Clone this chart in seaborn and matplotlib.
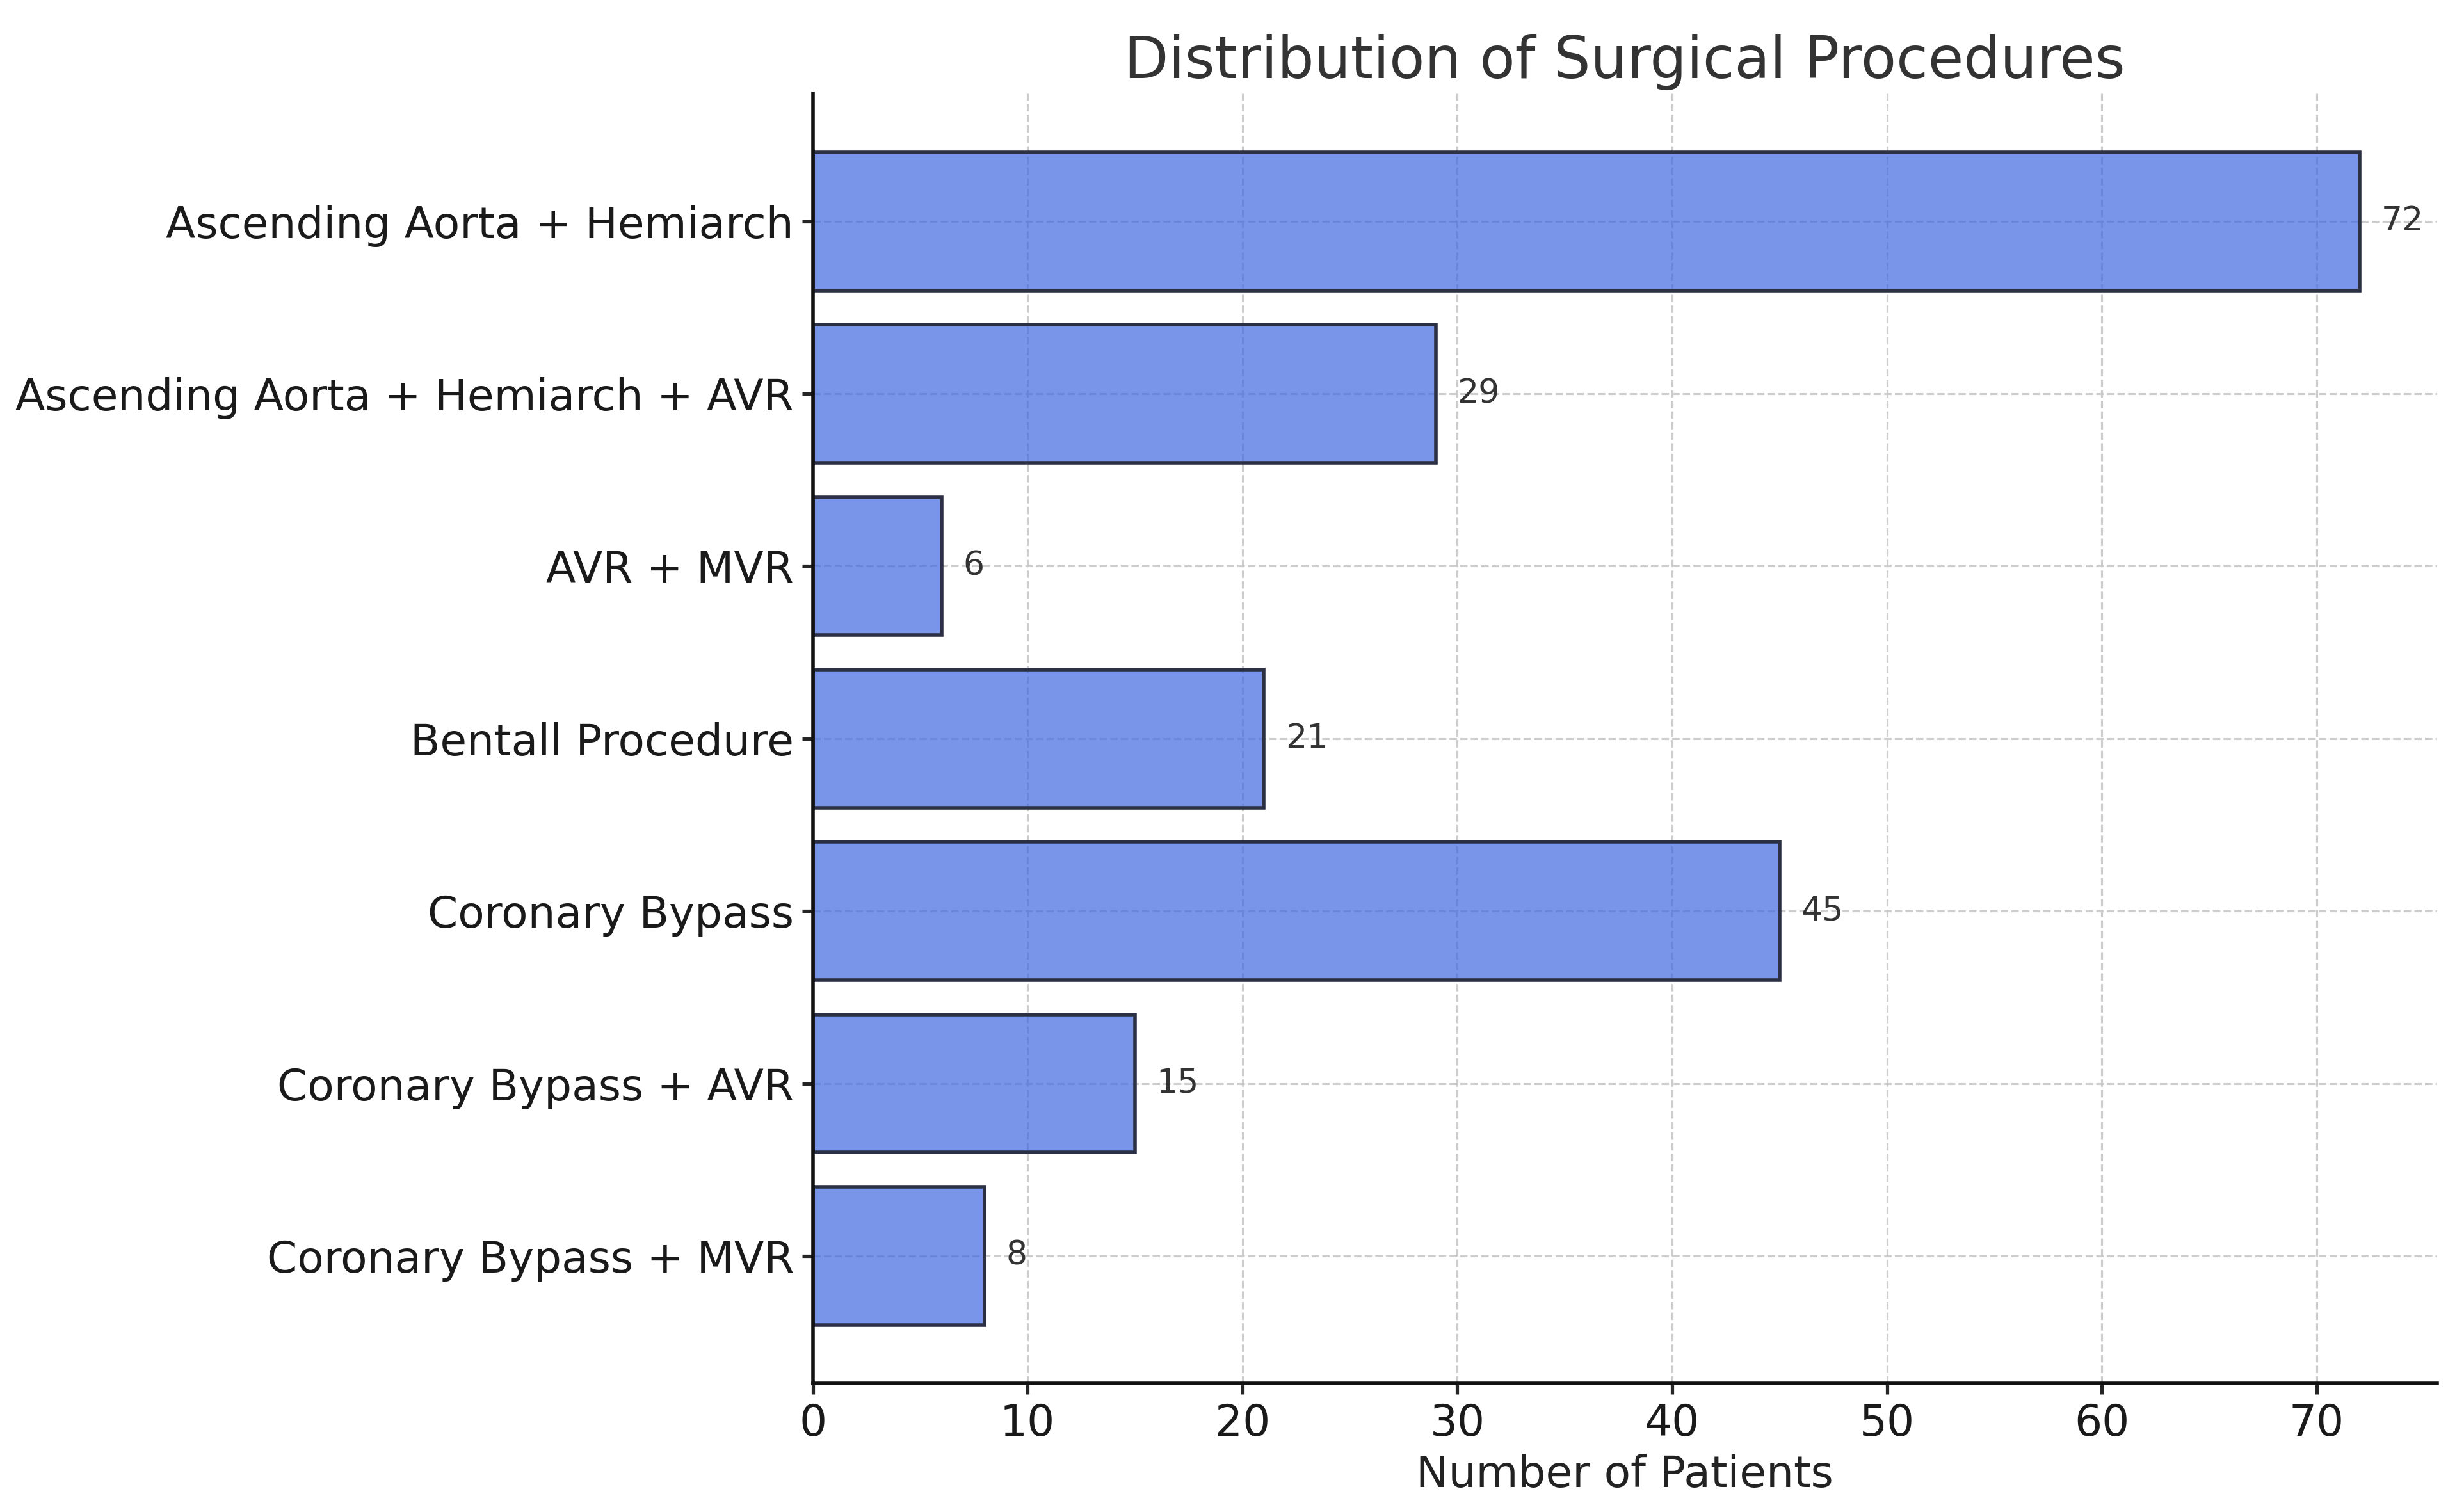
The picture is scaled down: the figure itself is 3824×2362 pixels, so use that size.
import matplotlib
matplotlib.use("Agg")
import matplotlib.pyplot as plt
import seaborn as sns
import pandas as pd

procedures = [
    "Ascending Aorta + Hemiarch",
    "Ascending Aorta + Hemiarch + AVR",
    "AVR + MVR",
    "Bentall Procedure",
    "Coronary Bypass",
    "Coronary Bypass + AVR",
    "Coronary Bypass + MVR",
]
patients = [72, 29, 6, 21, 45, 15, 8]

df = pd.DataFrame({"Procedure": procedures, "Patients": patients})

sns.set_style("ticks")
plt.rcParams["font.family"] = ["DejaVu Sans"]

fig, ax = plt.subplots(figsize=(15.296, 9.448), dpi=250)
fig.subplots_adjust(left=0.332, right=0.9955, top=0.938, bottom=0.085)

face = (65/255, 105/255, 225/255, 0.7)
sns.barplot(data=df, x="Patients", y="Procedure", order=procedures,
            color=face, saturation=1,
            edgecolor="#2b3044", linewidth=1.6, width=0.8, ax=ax)
for p in ax.patches:
    p.set_facecolor(face)

ax.grid(True, axis="both", linestyle="--", color="#c8c8c8", linewidth=0.9, alpha=0.9)
ax.set_axisbelow(True)

for i, v in enumerate(patients):
    ax.text(v + 1, i, str(v), va="center", ha="left", fontsize=15, color="#333333")

ax.set_title("Distribution of Surgical Procedures", fontsize=26, color="#333333", pad=7)
ax.set_xlabel("Number of Patients", fontsize=19.5, color="#222222")
ax.set_ylabel("")
ax.tick_params(axis="y", labelsize=19.5, labelcolor="#1a1a1a", length=5, width=1.5)
ax.tick_params(axis="x", labelsize=19.5, labelcolor="#1a1a1a", length=5, width=1.5)
ax.set_xticks([0, 10, 20, 30, 40, 50, 60, 70])
ax.set_xlim(0, 75.6)
ax.set_ylim(len(procedures) - 1 + 0.74, -0.74)
for s in ["left", "bottom"]:
    ax.spines[s].set_linewidth(1.6)
    ax.spines[s].set_color("#111111")
sns.despine(ax=ax)

fig.savefig("out.png", dpi=250)
